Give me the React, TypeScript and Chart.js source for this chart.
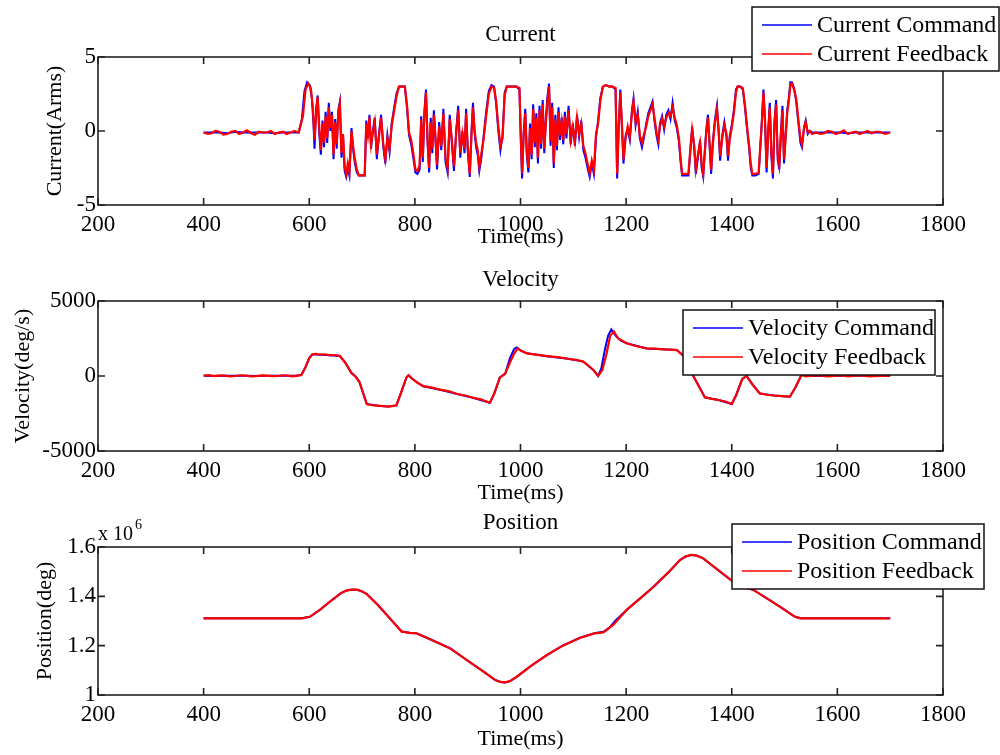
import React, { useEffect, useRef } from 'react';
import { Chart, registerables } from 'chart.js';

Chart.register(...registerables);

const FONT = '"Liberation Serif", "Times New Roman", serif';

// ---------- tick values ----------
const timeTicks = [200, 400, 600, 800, 1000, 1200, 1400, 1600, 1800];
const currentTicks = [-5, 0, 5];
const velocityTicks = [-5000, 0, 5000];
const positionTicks = [1, 1.2, 1.4, 1.6];

// ---------- series: [time (ms), value] ----------
const currentCommand: [number, number][] = [
  [400,-0.1],[415,-0.1],[430,-0.1],[445,-0.15],[460,-0.05],[475,-0.1],[490,-0.1],[505,-0.1],[520,-0.1],[535,-0.15],[550,-0.1],[565,-0.1],[580,-0.1],
  [586,0.8],[591,2.7],[596,3.3],[601,3.1],[605,2.2],[608,0.5],[610,-1.2],[613,1.5],[616,2.4],[619,-0.2],[622,-1.6],[625,0.7],[628,-1.1],[631,1.3],[634,-0.8],[637,1.9],[640,0.0],[643,1.3],[646,-1.9],[649,0.8],[652,-1.2],[655,1.4],[658,2.0],[661,-1.8],[664,-0.4],[667,-2.7],[670,-3.1],[673,-2.5],[676,-3.0],[680,0.2],[683,-1.2],[686,-2.1],[690,-2.8],[694,-3.0],[700,-3.0],[705,-3.0],[708,0.7],[711,-0.5],[714,1.1],[717,-1.2],[720,-0.1],[724,0.9],[728,-1.9],[732,-0.2],[736,1.1],[740,-1.0],[744,-2.2],[748,-0.3],[752,-1.4],[756,0.5],[760,1.4],[765,2.5],[770,3.0],[776,3.0],[781,3.0],[785,1.6],[789,-0.3],[793,-0.9],[797,-1.8],[801,-2.8],[805,-2.9],[809,-2.6],[812,1.0],[815,-2.1],[818,1.3],[821,2.8],[824,-0.8],[827,-2.8],[830,0.9],[833,-1.5],[836,1.4],[839,-0.6],[842,-2.6],[846,0.6],[850,-1.3],[854,1.5],[858,-2.1],[862,-2.8],[866,1.1],[870,-0.8],[874,-2.7],[878,-0.1],[882,1.7],[886,-1.8],[890,0.0],[894,-1.5],[897,1.5],[900,-1.3],[904,-3.1],[907,-0.2],[910,1.9],[913,-0.1],[916,-1.1],[919,-1.6],[922,-2.7],[926,-1.8],[930,-0.4],[935,1.3],[940,2.7],[945,3.1],[950,3.0],[954,1.8],[958,0.0],[962,-1.3],[966,-0.3],[970,2.6],[974,3.0],[980,3.0],[986,3.0],[992,3.0],[998,2.8],
  [1001,-1.2],[1003,-3.2],[1006,-0.1],[1009,1.5],[1012,-1.7],[1015,-2.8],[1018,0.5],[1021,-1.9],[1024,1.8],[1027,-1.1],[1030,1.2],[1033,-2.2],[1036,1.7],[1039,-1.2],[1042,2.1],[1045,-1.5],[1048,0.8],[1051,2.3],[1054,3.2],[1057,-1.0],[1060,1.9],[1063,-2.5],[1066,1.1],[1069,-1.3],[1072,1.6],[1075,-0.6],[1078,0.9],[1081,-0.9],[1084,1.3],[1087,-0.5],[1091,1.7],[1095,-0.9],[1099,0.5],[1103,-1.0],[1107,1.1],[1111,-0.4],[1115,0.7],[1119,-1.3],[1123,-1.8],[1127,-2.5],[1131,-3.1],[1135,-2.2],[1139,-2.9],[1143,-0.4],[1147,0.7],[1151,2.2],[1156,3.0],[1162,3.1],[1168,3.0],[1174,3.0],[1180,2.8],[1183,-3.2],[1186,0.4],[1189,2.8],[1192,0.3],[1195,-2.2],[1199,-0.3],[1203,0.1],[1207,-0.6],[1211,1.4],[1214,2.2],[1218,0.4],[1222,1.3],[1226,-0.5],[1230,-1.1],[1234,-0.4],[1238,0.5],[1242,1.2],[1246,1.6],[1250,2.0],[1254,0.6],[1258,-0.4],[1261,-0.9],[1264,0.5],[1268,1.0],[1272,0.1],[1276,1.1],[1280,1.4],[1284,0.8],[1288,1.9],[1292,0.7],[1296,0.2],[1300,-0.7],[1303,-2.0],[1306,-3.0],[1312,-3.0],[1318,-3.0],[1322,-1.2],[1325,0.3],[1329,-1.2],[1332,-2.9],[1336,-1.8],[1340,-0.6],[1343,-2.5],[1346,-3.1],[1349,-1.3],[1352,0.2],[1355,1.1],[1358,-1.0],[1361,-2.9],[1364,-0.8],[1368,0.7],[1372,1.7],[1375,0.0],[1378,-2.0],[1382,-0.3],[1386,0.6],[1390,-0.4],[1393,-2.0],[1396,-0.4],[1400,0.4],[1404,1.4],[1408,2.8],[1411,3.0],[1416,3.0],[1421,2.8],[1425,1.6],[1429,0.1],[1433,-1.2],[1436,-2.5],[1439,-3.0],[1445,-3.0],[1451,-2.9],[1454,-1.2],[1457,0.7],[1460,2.8],[1463,0.6],[1466,-2.8],[1469,0.0],[1472,1.9],[1475,-1.7],[1478,-3.2],[1481,0.7],[1484,2.1],[1487,-1.9],[1490,-2.6],[1493,-0.1],[1496,1.7],[1499,-2.2],[1502,-0.3],[1505,1.4],[1508,2.2],[1511,3.3],[1514,3.3],[1518,2.9],[1522,2.0],[1526,0.6],[1530,-0.8],[1533,-1.1],[1537,0.3],[1540,0.7],[1544,-0.2],[1548,0.0],[1552,-0.1],
  [1560,-0.1],[1575,-0.1],[1590,-0.1],[1605,-0.1],[1620,-0.15],[1635,-0.1],[1650,-0.1],[1665,-0.1],[1680,-0.1],[1700,-0.1],
];

const currentFeedback: [number, number][] = [
  [400,-0.1],[408,-0.2],[415,-0.15],[422,0.0],[430,-0.05],[437,-0.25],[445,-0.2],[452,-0.05],[460,0.0],[467,-0.2],[475,-0.1],[482,0.05],[490,-0.15],[497,-0.25],[505,-0.05],[512,-0.1],[520,-0.1],[527,0.0],[535,-0.2],[542,-0.1],[550,-0.05],[557,-0.2],[565,-0.1],[572,0.0],[580,-0.1],
  [588,1.0],[593,2.8],[598,3.2],[603,2.9],[607,1.5],[610,-0.6],[613,1.2],[616,2.3],[619,0.2],[622,-1.3],[625,0.5],[628,-0.8],[631,1.0],[634,-0.5],[637,1.6],[640,0.2],[643,1.1],[646,-1.6],[649,0.6],[652,-0.9],[655,1.2],[658,1.8],[661,-1.5],[664,-0.2],[667,-2.4],[670,-2.9],[673,-2.2],[676,-2.8],[680,0.0],[683,-1.0],[686,-1.8],[690,-2.6],[694,-3.0],[700,-3.0],[705,-3.0],[708,0.5],[711,-0.3],[714,0.9],[717,-0.9],[720,-0.2],[724,0.6],[728,-1.6],[732,-0.4],[736,0.9],[740,-0.8],[744,-1.9],[748,-0.5],[752,-1.2],[756,0.3],[760,1.2],[765,2.3],[770,3.0],[776,3.0],[781,3.0],[785,1.8],[789,-0.1],[793,-0.6],[797,-1.5],[801,-2.6],[805,-2.7],[809,-2.3],[812,0.8],[815,-1.8],[818,1.1],[821,2.6],[824,-0.5],[827,-2.5],[830,0.6],[833,-1.2],[836,1.1],[839,-0.4],[842,-2.3],[846,0.3],[850,-1.0],[854,1.2],[858,-1.8],[862,-2.5],[866,0.8],[870,-0.6],[874,-2.4],[878,-0.3],[882,1.4],[886,-1.5],[890,-0.2],[894,-1.2],[897,1.2],[900,-1.0],[904,-2.9],[907,-0.4],[910,1.6],[913,0.1],[916,-0.8],[919,-1.3],[922,-2.4],[926,-1.5],[930,-0.6],[935,1.0],[940,2.5],[945,3.0],[950,2.9],[954,2.0],[958,0.3],[962,-1.0],[966,-0.5],[970,2.4],[974,3.0],[980,3.0],[986,3.0],[992,3.0],[998,2.9],
  [1001,-0.8],[1003,-2.85],[1006,-0.3],[1009,1.2],[1012,-1.4],[1015,-2.5],[1018,0.2],[1021,-1.6],[1024,1.5],[1027,-0.8],[1030,0.9],[1033,-1.8],[1036,1.4],[1039,-0.9],[1042,1.8],[1045,-1.2],[1048,0.5],[1051,2.0],[1054,3.0],[1057,-0.7],[1060,1.6],[1063,-2.2],[1066,0.8],[1069,-1.0],[1072,1.3],[1075,-0.3],[1078,0.6],[1081,-0.6],[1084,1.0],[1087,-0.2],[1091,1.4],[1095,-0.6],[1099,0.3],[1103,-0.7],[1107,0.9],[1111,-0.2],[1115,0.5],[1119,-1.0],[1123,-1.5],[1127,-2.2],[1131,-2.85],[1135,-2.0],[1139,-2.6],[1143,-0.2],[1147,0.5],[1151,2.0],[1156,3.0],[1162,3.1],[1168,3.0],[1174,3.0],[1180,2.9],[1183,-2.9],[1186,0.2],[1189,2.6],[1192,0.5],[1195,-1.9],[1199,-0.5],[1203,0.3],[1207,-0.4],[1211,1.2],[1214,2.0],[1218,0.6],[1222,1.1],[1226,-0.3],[1230,-0.8],[1234,-0.2],[1238,0.3],[1242,1.0],[1246,1.4],[1250,1.8],[1254,0.8],[1258,-0.2],[1261,-0.6],[1264,0.3],[1268,0.85],[1272,0.3],[1276,0.9],[1280,1.2],[1284,1.0],[1288,1.6],[1292,0.9],[1296,0.4],[1300,-0.5],[1303,-1.8],[1306,-2.9],[1312,-2.9],[1318,-2.9],[1322,-1.0],[1325,0.1],[1329,-1.0],[1332,-2.6],[1336,-1.6],[1340,-0.8],[1343,-2.2],[1346,-2.9],[1349,-1.5],[1352,0.0],[1355,0.9],[1358,-0.8],[1361,-2.6],[1364,-1.0],[1368,0.5],[1372,1.45],[1375,0.2],[1378,-1.7],[1382,-0.5],[1386,0.4],[1390,-0.2],[1393,-1.7],[1396,-0.6],[1400,0.2],[1404,1.2],[1408,2.6],[1411,3.0],[1416,3.0],[1421,2.9],[1425,1.8],[1429,0.3],[1433,-1.0],[1436,-2.2],[1439,-2.9],[1445,-2.9],[1451,-2.8],[1454,-1.0],[1457,0.5],[1460,2.6],[1463,0.8],[1466,-2.5],[1469,-0.2],[1472,1.6],[1475,-1.4],[1478,-2.9],[1481,0.5],[1484,1.8],[1487,-1.6],[1490,-2.3],[1493,-0.3],[1496,1.4],[1499,-1.9],[1502,-0.5],[1505,1.2],[1508,2.0],[1511,3.1],[1514,3.2],[1518,2.8],[1522,2.2],[1526,0.8],[1530,-0.5],[1533,-0.9],[1537,0.2],[1540,0.6],[1544,-0.1],[1548,0.0],[1552,-0.2],
  [1560,-0.1],[1567,-0.2],[1575,-0.15],[1582,0.0],[1590,-0.05],[1597,-0.2],[1605,-0.1],[1612,0.05],[1620,-0.2],[1627,-0.1],[1635,-0.05],[1642,-0.2],[1650,-0.1],[1657,0.0],[1665,-0.15],[1672,-0.05],[1680,-0.05],[1690,-0.2],[1700,-0.1],
];

const velocityCommand: [number, number][] = [
  [400,10],[420,0],[440,20],[460,10],[480,10],[500,0],[520,20],[540,10],[560,10],[575,10],[585,60],[593,600],[600,1200],[606,1450],[620,1420],[640,1380],[658,1330],[668,900],[680,200],[688,-50],[695,-400],[709,-1870],[730,-1980],[750,-2040],[765,-1960],[775,-1000],[784,-100],[788,50],[794,-150],[805,-450],[816,-680],[850,-930],[880,-1200],[910,-1450],[942,-1780],[950,-1200],[961,-100],[971,150],[980,1200],[988,1800],[993,1900],[1000,1700],[1012,1510],[1050,1320],[1090,1150],[1119,960],[1138,400],[1147,0],[1153,500],[1160,1800],[1166,2700],[1172,3100],[1180,2700],[1190,2350],[1201,2180],[1239,1840],[1270,1780],[1296,1730],[1310,1300],[1321,400],[1335,-500],[1349,-1420],[1375,-1600],[1400,-1870],[1408,-1300],[1420,-200],[1428,0],[1440,-600],[1453,-1160],[1480,-1300],[1510,-1380],[1520,-800],[1532,70],[1550,0],[1570,20],[1590,0],[1610,10],[1630,10],[1650,20],[1670,0],[1700,10],
];

const velocityFeedback: [number, number][] = [
  [400,20],[410,60],[420,-10],[430,40],[440,30],[450,-20],[460,0],[470,50],[480,20],[490,-20],[500,-10],[510,40],[520,30],[530,-10],[540,0],[550,50],[560,20],[568,-20],[575,10],[585,60],[593,600],[600,1200],[606,1450],[613,1480],[620,1420],[630,1450],[640,1380],[650,1400],[658,1330],[668,900],[680,200],[688,-50],[695,-400],[709,-1870],[720,-1950],[730,-1980],[740,-2010],[750,-2040],[765,-1960],[775,-1000],[784,-100],[788,50],[794,-150],[805,-450],[816,-680],[833,-780],[850,-930],[865,-1020],[880,-1200],[895,-1300],[910,-1450],[925,-1560],[942,-1780],[950,-1200],[961,-100],[971,150],[980,900],[988,1500],[995,1840],[1000,1700],[1012,1510],[1030,1430],[1050,1320],[1070,1260],[1090,1150],[1105,1080],[1119,960],[1138,400],[1147,0],[1155,400],[1163,1500],[1170,2700],[1177,2960],[1185,2500],[1201,2180],[1220,1980],[1239,1840],[1255,1820],[1270,1780],[1285,1760],[1296,1730],[1310,1300],[1321,400],[1335,-500],[1349,-1420],[1362,-1520],[1375,-1600],[1388,-1700],[1400,-1870],[1408,-1300],[1420,-200],[1428,0],[1440,-600],[1453,-1160],[1466,-1250],[1480,-1300],[1495,-1340],[1510,-1380],[1520,-800],[1532,70],[1540,-20],[1550,0],[1560,40],[1570,30],[1580,-30],[1590,-10],[1600,40],[1610,20],[1620,-30],[1630,0],[1640,40],[1650,30],[1660,-30],[1670,-10],[1685,30],[1700,10],
];

// position in units of 10^6 deg
const positionCommand: [number, number][] = [
  [400,1.311],[500,1.311],[586,1.311],[601,1.317],[620,1.345],[640,1.38],[660,1.413],[671,1.424],[680,1.427],[690,1.427],[700,1.42],[709,1.409],[730,1.365],[747,1.324],[775,1.257],[790,1.252],[803,1.25],[830,1.225],[867,1.189],[898,1.142],[930,1.095],[952,1.061],[962,1.053],[971,1.051],[980,1.056],[993,1.074],[1020,1.118],[1050,1.162],[1080,1.2],[1113,1.232],[1140,1.25],[1157,1.256],[1168,1.272],[1180,1.302],[1201,1.345],[1230,1.398],[1252,1.439],[1280,1.497],[1302,1.547],[1312,1.561],[1324,1.568],[1334,1.565],[1346,1.554],[1375,1.505],[1403,1.459],[1420,1.44],[1441,1.426],[1465,1.394],[1491,1.358],[1510,1.331],[1520,1.317],[1530,1.311],[1600,1.311],[1700,1.311],
];

const positionFeedback: [number, number][] = [
  [400,1.311],[500,1.311],[586,1.311],[601,1.317],[620,1.345],[640,1.38],[660,1.413],[671,1.424],[680,1.427],[690,1.427],[700,1.42],[709,1.409],[730,1.365],[747,1.324],[775,1.257],[790,1.252],[803,1.25],[830,1.225],[867,1.189],[898,1.142],[930,1.095],[952,1.061],[962,1.053],[971,1.051],[980,1.056],[993,1.074],[1020,1.118],[1050,1.162],[1080,1.2],[1113,1.232],[1140,1.25],[1157,1.254],[1176,1.285],[1201,1.345],[1230,1.398],[1252,1.439],[1280,1.497],[1302,1.547],[1312,1.561],[1324,1.568],[1334,1.565],[1346,1.554],[1375,1.505],[1403,1.459],[1420,1.44],[1441,1.426],[1465,1.394],[1491,1.358],[1510,1.331],[1520,1.317],[1530,1.311],[1600,1.311],[1700,1.311],
];

// ---------- panel descriptions ----------
interface Panel {
  title: string;
  yLabel: string;
  cmdLabel: string;
  fbLabel: string;
  cmd: [number, number][];
  fb: [number, number][];
  yMin: number;
  yMax: number;
  yTicks: number[];
  top: number;
  bottom: number;
  titleY: number;
  xLabelY: number;
  yLabelX: number;
  legend: { x: number; y: number; w: number; h: number };
  exponent?: boolean;
}

const panels: Panel[] = [
  {
    title: 'Current', yLabel: 'Current(Arms)', cmdLabel: 'Current Command', fbLabel: 'Current Feedback',
    cmd: currentCommand, fb: currentFeedback, yMin: -5, yMax: 5, yTicks: currentTicks,
    top: 57, bottom: 205, titleY: 35, xLabelY: 237, yLabelX: 55,
    legend: { x: 752, y: 7, w: 247, h: 64 },
  },
  {
    title: 'Velocity', yLabel: 'Velocity(deg/s)', cmdLabel: 'Velocity Command', fbLabel: 'Velocity Feedback',
    cmd: velocityCommand, fb: velocityFeedback, yMin: -5000, yMax: 5000, yTicks: velocityTicks,
    top: 301, bottom: 451, titleY: 280, xLabelY: 493, yLabelX: 23,
    legend: { x: 683, y: 310, w: 252, h: 65 },
  },
  {
    title: 'Position', yLabel: 'Position(deg)', cmdLabel: 'Position Command', fbLabel: 'Position Feedback',
    cmd: positionCommand, fb: positionFeedback, yMin: 1, yMax: 1.6, yTicks: positionTicks,
    top: 547, bottom: 695, titleY: 523, xLabelY: 739, yLabelX: 45,
    legend: { x: 732, y: 524, w: 252, h: 65 }, exponent: true,
  },
];

const W = 1000;
const H = 755;
const PLOT_LEFT = 98;
const PLOT_RIGHT = 943;
const X_AXIS_H = 40;

const fmt = (v: number) => String(Number(Number(v).toFixed(3)));

const decorPlugin = {
  id: 'decor',
  afterDraw(chart: any, _args: any, opts: any) {
    const { ctx, chartArea: a } = chart;
    const xs = chart.scales.x;
    const ys = chart.scales.y;
    ctx.save();
    // axis box
    ctx.strokeStyle = '#222';
    ctx.lineWidth = 1.6;
    ctx.strokeRect(a.left, a.top, a.right - a.left, a.bottom - a.top);
    // inward ticks on all sides
    const tl = 7;
    ctx.beginPath();
    xs.ticks.forEach((t: any) => {
      const p = xs.getPixelForValue(t.value);
      ctx.moveTo(p, a.bottom); ctx.lineTo(p, a.bottom - tl);
      ctx.moveTo(p, a.top); ctx.lineTo(p, a.top + tl);
    });
    ys.ticks.forEach((t: any) => {
      const p = ys.getPixelForValue(t.value);
      ctx.moveTo(a.left, p); ctx.lineTo(a.left + tl, p);
      ctx.moveTo(a.right, p); ctx.lineTo(a.right - tl, p);
    });
    ctx.stroke();

    ctx.fillStyle = '#000';
    const cx = (a.left + a.right) / 2;
    // title
    ctx.font = `23px ${FONT}`;
    ctx.textAlign = 'center';
    ctx.textBaseline = 'middle';
    ctx.fillText(opts.title, cx, opts.titleY);
    // x label
    ctx.font = `22px ${FONT}`;
    ctx.fillText('Time(ms)', cx, opts.xLabelY);
    // y label
    ctx.save();
    ctx.translate(opts.yLabelX, (a.top + a.bottom) / 2);
    ctx.rotate(-Math.PI / 2);
    ctx.fillText(opts.yLabel, 0, 0);
    ctx.restore();
    // exponent
    if (opts.exponent) {
      ctx.textAlign = 'left';
      ctx.textBaseline = 'alphabetic';
      ctx.font = `20px ${FONT}`;
      ctx.fillText('x 10', a.left, a.top - 7);
      const w = ctx.measureText('x 10').width;
      ctx.font = `14px ${FONT}`;
      ctx.fillText('6', a.left + w + 2, a.top - 18);
    }
    // legend
    const L = opts.legend;
    ctx.fillStyle = '#fff';
    ctx.fillRect(L.x, L.y, L.w, L.h);
    ctx.strokeStyle = '#111';
    ctx.lineWidth = 1.5;
    ctx.strokeRect(L.x, L.y, L.w, L.h);
    const rows = [
      { label: opts.cmdLabel, color: '#0000ff' },
      { label: opts.fbLabel, color: '#ff0000' },
    ];
    ctx.font = `24px ${FONT}`;
    ctx.textAlign = 'left';
    ctx.textBaseline = 'middle';
    rows.forEach((r, i) => {
      const y = L.y + 18 + i * 29;
      ctx.strokeStyle = r.color;
      ctx.lineWidth = 1.6;
      ctx.beginPath();
      ctx.moveTo(L.x + 10, y);
      ctx.lineTo(L.x + 60, y);
      ctx.stroke();
      ctx.fillStyle = '#000';
      ctx.fillText(r.label, L.x + 65, y + 1);
    });
    ctx.restore();
  },
};

function PanelChart({ p }: { p: Panel }) {
  const ref = useRef<HTMLCanvasElement>(null);
  useEffect(() => {
    const tickFont = { family: FONT, size: 23 };
    const chart = new Chart(ref.current as HTMLCanvasElement, {
      type: 'line',
      data: {
        datasets: [
          {
            label: p.cmdLabel,
            data: p.cmd.map(([x, y]) => ({ x, y })),
            borderColor: '#0000ff',
            borderWidth: 2,
            pointRadius: 0,
            tension: 0,
            order: 1,
          },
          {
            label: p.fbLabel,
            data: p.fb.map(([x, y]) => ({ x, y })),
            borderColor: '#ff0000',
            borderWidth: 2.2,
            pointRadius: 0,
            tension: 0,
            order: 0,
          },
        ],
      },
      options: {
        responsive: false,
        animation: false,
        events: [],
        layout: {
          padding: { left: 0, right: W - PLOT_RIGHT, top: p.top, bottom: H - p.bottom - X_AXIS_H },
        },
        scales: {
          x: {
            type: 'linear',
            min: 200,
            max: 1800,
            afterBuildTicks: (s: any) => { s.ticks = timeTicks.map((v) => ({ value: v })); },
            afterFit: (s: any) => { s.height = X_AXIS_H; },
            grid: { display: false, drawTicks: false },
            border: { display: false },
            ticks: { padding: 6, color: '#000', font: tickFont, maxRotation: 0, autoSkip: false, callback: (v: any) => fmt(v) },
          },
          y: {
            type: 'linear',
            min: p.yMin,
            max: p.yMax,
            afterBuildTicks: (s: any) => { s.ticks = p.yTicks.map((v) => ({ value: v })); },
            afterFit: (s: any) => { s.width = PLOT_LEFT; },
            grid: { display: false, drawTicks: false },
            border: { display: false },
            ticks: { padding: 2, color: '#000', font: tickFont, autoSkip: false, callback: (v: any) => fmt(v) },
          },
        },
        plugins: {
          legend: { display: false },
          tooltip: { enabled: false },
          decor: {
            title: p.title, yLabel: p.yLabel, cmdLabel: p.cmdLabel, fbLabel: p.fbLabel,
            titleY: p.titleY, xLabelY: p.xLabelY, yLabelX: p.yLabelX, legend: p.legend, exponent: !!p.exponent,
          },
        } as any,
      },
      plugins: [decorPlugin],
    });
    return () => chart.destroy();
  }, [p]);
  return (
    <canvas
      ref={ref}
      width={W}
      height={H}
      style={{ position: 'absolute', left: 0, top: 0, width: W, height: H }}
    />
  );
}

export default function App() {
  return (
    <div style={{ position: 'absolute', left: 0, top: 0, width: W, height: H, background: '#fff' }}>
      {panels.map((p) => (
        <PanelChart key={p.title} p={p} />
      ))}
    </div>
  );
}
